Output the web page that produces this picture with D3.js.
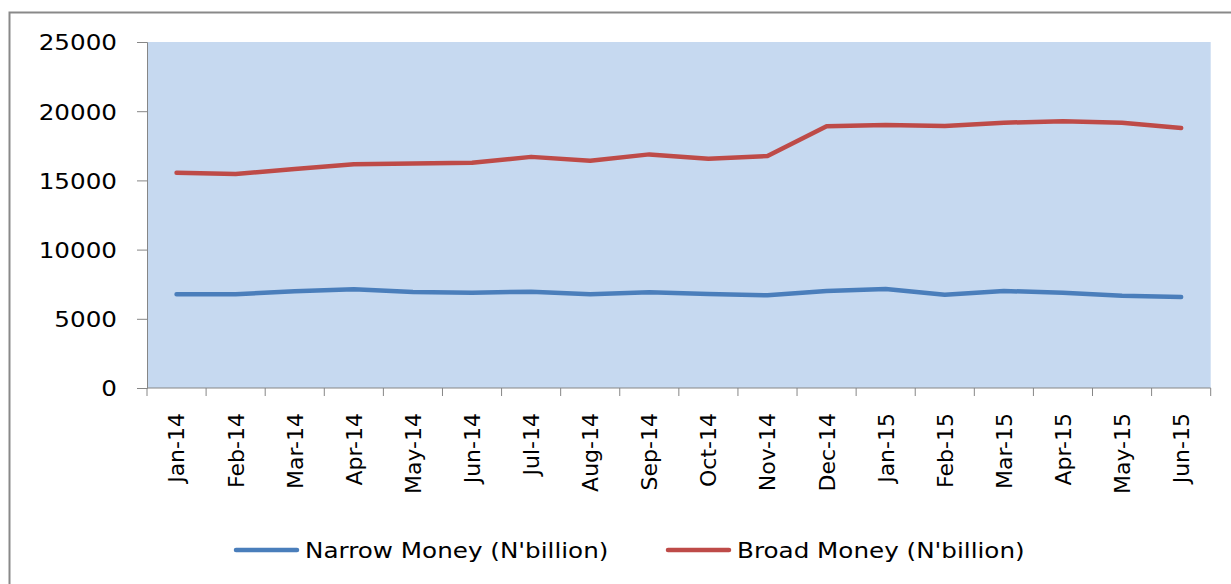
<!DOCTYPE html>
<html>
<head>
<meta charset="utf-8">
<script src="https://cdn.jsdelivr.net/npm/d3@7"></script>
<style>
  body { margin: 0; background: #fff; }
  svg text { font-family: "DejaVu Sans", Verdana, sans-serif; fill: #000; }
</style>
</head>
<body>
<div class="chart"></div>
<script>
// months on the x axis
var months = ["Jan-14","Feb-14","Mar-14","Apr-14","May-14","Jun-14","Jul-14","Aug-14","Sep-14",
    "Oct-14","Nov-14","Dec-14","Jan-15","Feb-15","Mar-15","Apr-15","May-15","Jun-15"];

// N'billion
var narrowMoney = [6770, 6770, 6990, 7130, 6940, 6890, 6960, 6770, 6910,
    6790, 6700, 7010, 7150, 6740, 7010, 6890, 6670, 6580];
var broadMoney = [15550, 15460, 15820, 16160, 16230, 16280, 16700, 16420, 16880,
    16570, 16760, 18910, 19000, 18930, 19170, 19270, 19170, 18790];

var yTicks = [0, 5000, 10000, 15000, 20000, 25000];
var seriesNames = ["Narrow Money (N'billion)", "Broad Money (N'billion)"];
var seriesColors = ["#4A7EBB", "#BE4B48"];

const W = 1231, H = 584;
const plot = {left: 147, right: 1210.7, top: 42, bottom: 388};
const stretch = 1.12; // horizontal text widening seen in the picture

var svg = d3.select(".chart").append("svg")
    .attr("width", W)
    .attr("height", H);

// outer chart frame (runs off the right and bottom)
svg.append("rect")
    .attr("x", 9.5).attr("y", 12.5)
    .attr("width", 1400).attr("height", 800)
    .attr("fill", "none")
    .attr("stroke", "#898989")
    .attr("stroke-width", 2);

svg.append("rect")
    .attr("x", plot.left).attr("y", plot.top)
    .attr("width", plot.right - plot.left)
    .attr("height", plot.bottom - plot.top)
    .attr("fill", "#C6D9F0");

const xScale = d3.scaleBand()
    .domain(months)
    .range([plot.left, plot.right]);

const yScale = d3.scaleLinear()
    .domain([0, 25000])
    .range([plot.bottom, plot.top]);

// y axis
var yAxisG = svg.append("g")
    .attr("transform", "translate(" + plot.left + ",0)")
    .call(d3.axisLeft(yScale).tickValues(yTicks).tickSize(10).tickPadding(20).tickFormat(d3.format("d")));
yAxisG.select(".domain").attr("stroke", "#868686");
yAxisG.selectAll(".tick line").attr("stroke", "#868686");
yAxisG.selectAll(".tick text")
    .attr("font-size", 22)
    .attr("x", -30 / stretch)
    .attr("dy", "0.36em")
    .attr("transform", "scale(" + stretch + ",1)");

// x axis, ticks on band edges
var xAxisG = svg.append("g")
    .attr("transform", "translate(0," + plot.bottom + ")");
xAxisG.append("line")
    .attr("x1", plot.left).attr("x2", plot.right)
    .attr("stroke", "#868686");
xAxisG.selectAll(".edge")
    .data(months.concat(["end"]))
    .join("line")
    .attr("class", "edge")
    .attr("x1", (d, i) => i < months.length ? xScale(d) : plot.right)
    .attr("x2", (d, i) => i < months.length ? xScale(d) : plot.right)
    .attr("y1", 0).attr("y2", 8)
    .attr("stroke", "#868686");
xAxisG.selectAll(".lbl")
    .data(months)
    .join("text")
    .attr("class", "lbl")
    .attr("font-size", 22)
    .attr("text-anchor", "end")
    .attr("dy", "0.36em")
    .attr("transform", d => "translate(" + (xScale(d) + xScale.bandwidth() / 2) + ",25) rotate(-90)")
    .text(d => d);

// lines
const line = d3.line()
    .x((d, i) => xScale(months[i]) + xScale.bandwidth() / 2)
    .y(d => yScale(d));

[narrowMoney, broadMoney].forEach((vals, k) => {
    svg.append("path")
        .datum(vals)
        .attr("d", line)
        .attr("fill", "none")
        .attr("stroke", seriesColors[k])
        .attr("stroke-width", 4.5)
        .attr("stroke-linejoin", "round")
        .attr("stroke-linecap", "round");
});

// legend
var legendX = [236, 668];
seriesNames.forEach((name, k) => {
    var g = svg.append("g").attr("transform", "translate(" + legendX[k] + ",550)");
    g.append("line")
        .attr("x1", 0).attr("x2", 61)
        .attr("stroke", seriesColors[k])
        .attr("stroke-width", 4.5)
        .attr("stroke-linecap", "round");
    g.append("text")
        .attr("x", 69 / stretch)
        .attr("dy", "0.36em")
        .attr("font-size", 22)
        .attr("transform", "scale(" + stretch + ",1)")
        .text(name);
});
</script>
</body>
</html>
